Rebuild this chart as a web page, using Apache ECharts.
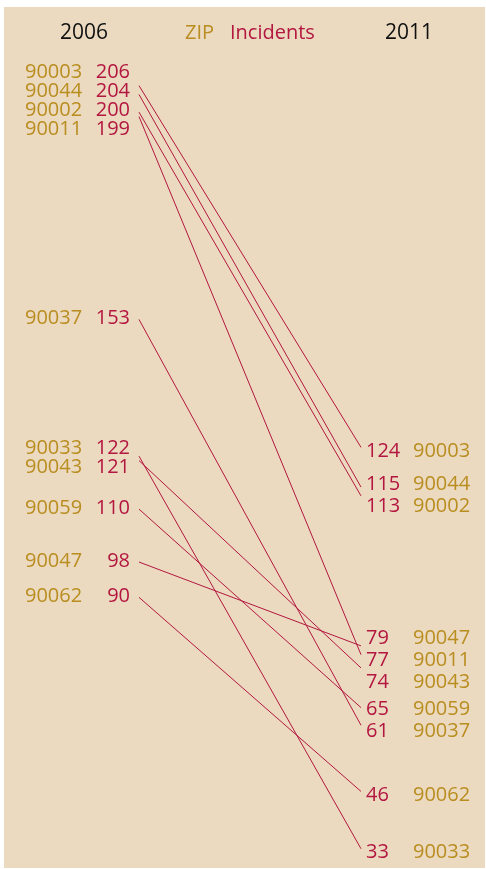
<!DOCTYPE html>
<html>
<head>
<meta charset="utf-8">
<script src="https://cdn.jsdelivr.net/npm/echarts@6/dist/echarts.min.js"></script>
<style>
html,body{margin:0;padding:0;background:#fff;}
#c{width:486px;height:869px;}
</style>
</head>
<body>
<div id="c"></div>
<script>
// ---- data ----
const zips = ['90003','90044','90002','90011','90037','90033','90043','90059','90047','90062'];
const incidents2006 = [206,204,200,199,153,122,121,110,98,90];
const incidents2011 = [124,115,113,77,61,33,74,65,79,46];
const years = ['2006','2011'];
const headerZip = 'ZIP';
const headerIncidents = 'Incidents';

// ---- style ----
const RED = '#B3163F';
const GOLD = '#B98D1F';
const BG = '#EBDAC0';
const FONT = "'Open Sans','Noto Sans',sans-serif";
const FS = 20;

const chart = echarts.init(document.getElementById('c'), null, {renderer:'canvas'});

const baseSeries = zips.map((z, i) => ({
  type: 'line',
  name: z,
  silent: true,
  symbol: 'circle',
  symbolSize: 0,
  showSymbol: true,
  lineStyle: {color: RED, width: 1},
  itemStyle: {color: RED},
  label: {show: false},
  data: [[0, incidents2006[i]], [1, incidents2011[i]]]
}));

chart.setOption({
  animation: false,
  backgroundColor: '#ffffff',
  grid: {left: 139, right: 125, top: 68, bottom: 7},
  xAxis: {type: 'value', min: 0, max: 1, show: false},
  yAxis: {type: 'value', min: 30, max: 210, show: false},
  graphic: [
    {type: 'rect', z: -10, silent: true, shape: {x: 4, y: 7, width: 481, height: 861}, style: {fill: BG}},
    {type: 'text', silent: true, x: 84, y: 33, style: {text: years[0], fill: '#111', font: '21px ' + FONT, align: 'center', verticalAlign: 'middle'}},
    {type: 'text', silent: true, x: 185, y: 33, style: {text: headerZip, fill: GOLD, font: FS + 'px ' + FONT, align: 'left', verticalAlign: 'middle'}},
    {type: 'text', silent: true, x: 230, y: 33, style: {text: headerIncidents, fill: RED, font: FS + 'px ' + FONT, align: 'left', verticalAlign: 'middle'}},
    {type: 'text', silent: true, x: 409, y: 33, style: {text: years[1], fill: '#111', font: '21px ' + FONT, align: 'center', verticalAlign: 'middle'}}
  ],
  series: baseSeries
});

// ---- label de-confliction (minimal displacement with a minimum gap) ----
function spread(ys, gap) {
  const idx = ys.map((y, i) => i).sort((a, b) => ys[a] - ys[b]);
  const blocks = [];
  idx.forEach((id, k) => {
    blocks.push({sum: ys[id] - k * gap, n: 1, ks: [k]});
    while (blocks.length > 1) {
      const a = blocks[blocks.length - 2], b = blocks[blocks.length - 1];
      if (a.sum / a.n > b.sum / b.n) {
        blocks.pop();
        a.sum += b.sum; a.n += b.n; a.ks = a.ks.concat(b.ks);
      } else break;
    }
  });
  const out = new Array(ys.length);
  blocks.forEach(bl => {
    const m = bl.sum / bl.n;
    bl.ks.forEach(k => { out[idx[k]] = m + k * gap; });
  });
  return out;
}

const leftPx = zips.map((z, i) => chart.convertToPixel({gridIndex: 0}, [0, incidents2006[i]])[1]);
const rightPx = zips.map((z, i) => chart.convertToPixel({gridIndex: 0}, [1, incidents2011[i]])[1]);
const leftY = spread(leftPx, 19).map(y => y - 1);
const rightY = spread(rightPx, 22).map(y => y + 4);

const tok = (color, extra) => Object.assign({color: color, fontSize: FS, fontFamily: FONT}, extra || {});

chart.setOption({
  series: zips.map((z, i) => ({
    label: {show: true},
    labelLayout: function (p) {
      return p.dataIndex === 0
        ? {dy: leftY[i] - leftPx[i]}
        : {dy: rightY[i] - rightPx[i]};
    },
    data: [
      {
        value: [0, incidents2006[i]],
        label: {
          show: true, position: 'left', distance: 9,
          formatter: '{z|' + z + '}{v|' + incidents2006[i] + '}',
          rich: {z: tok(GOLD, {width: 70, align: 'left'}), v: tok(RED, {width: 35, align: 'right'})}
        }
      },
      {
        value: [1, incidents2011[i]],
        label: {
          show: true, position: 'right', distance: 5,
          formatter: '{v|' + incidents2011[i] + '}{z|' + z + '}',
          rich: {v: tok(RED, {width: 47, align: 'left'}), z: tok(GOLD)}
        }
      }
    ]
  }))
});
</script>
</body>
</html>
